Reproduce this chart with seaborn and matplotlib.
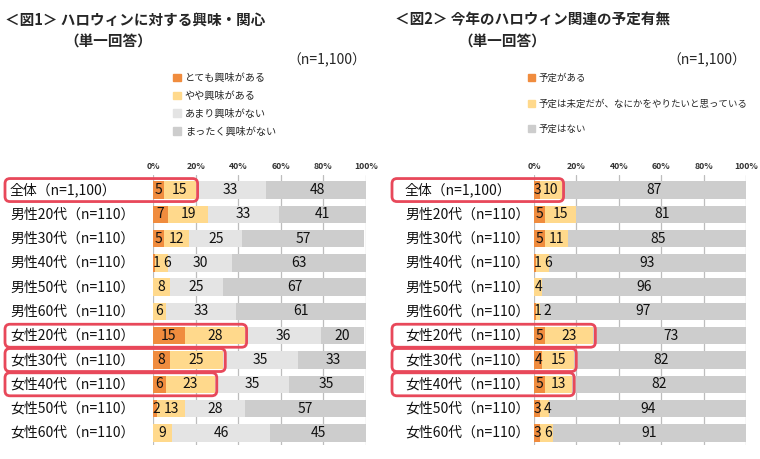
import matplotlib
matplotlib.use('Agg')
import matplotlib.pyplot as plt
import matplotlib.transforms as mtransforms
from matplotlib.patches import Patch, FancyBboxPatch
import numpy as np
import seaborn as sns

groups = ['全体（n=1,100）', '男性20代（n=110）', '男性30代（n=110）', '男性40代（n=110）',
          '男性50代（n=110）', '男性60代（n=110）', '女性20代（n=110）', '女性30代（n=110）',
          '女性40代（n=110）', '女性50代（n=110）', '女性60代（n=110）']

# 図1 興味・関心 (%)
fig1_names = ['とても興味がある', 'やや興味がある', 'あまり興味がない', 'まったく興味がない']
fig1_very = [5, 7, 5, 1, 0, 0, 15, 8, 6, 2, 0]
fig1_some = [15, 19, 12, 6, 8, 6, 28, 25, 23, 13, 9]
fig1_little = [33, 33, 25, 30, 25, 33, 36, 35, 35, 28, 46]
fig1_none = [48, 41, 57, 63, 67, 61, 20, 33, 35, 57, 45]

# 図2 予定有無 (%)
fig2_names = ['予定がある', '予定は未定だが、なにかをやりたいと思っている', '予定はない']
fig2_yes = [3, 5, 5, 1, 0, 1, 5, 4, 5, 3, 3]
fig2_maybe = [10, 15, 11, 6, 4, 2, 23, 15, 13, 4, 6]
fig2_no = [87, 81, 85, 93, 96, 97, 73, 82, 82, 94, 91]

highlight = [0, 6, 7, 8]

ORANGE = '#F08C3E'
YELLOW = '#FFD98C'
LGRAY = '#E4E4E4'
GRAY = '#CDCDCD'
RED = '#E8485A'

sns.set_theme(style='white')
plt.rcParams['font.family'] = ['Noto Sans CJK JP', 'DejaVu Sans']

W, H = 760, 459
fig = plt.figure(figsize=(W / 100, H / 100), dpi=100)


def px(x, y):
    return x / W, 1 - y / H


def panel(ax, series, colors, names, label_x, box_left, legend_xy, spacing, legend_size):
    n = len(series)
    for k in reversed(range(n)):
        cum = list(np.sum(series[:k + 1], axis=0))
        sns.barplot(x=cum, y=groups, order=groups, orient='h', color=colors[k],
                    saturation=1, width=0.72, linewidth=0, ax=ax)
    ax.set_xlim(0, 100)
    ax.set_ylim(10.5, -0.62)
    ax.set_axisbelow(True)
    ax.xaxis.tick_top()
    ax.set_xticks(range(0, 101, 20))
    ax.set_xticklabels([f'{v}%' for v in range(0, 101, 20)], fontsize=6.3,
                       color='#333333', weight='bold')
    ax.tick_params(axis='x', length=0, pad=3)
    ax.grid(axis='x', color='#BDBDBD', lw=0.9)
    ax.set_yticks([])
    ax.set_xlabel('')
    ax.set_ylabel('')
    for s in ax.spines.values():
        s.set_visible(False)

    # values inside segments, nudged right when small ones would collide
    digit = 5.7 / ax.bbox.width * 100
    for i in range(len(groups)):
        left = 0
        prev_right = -10
        for k in range(n):
            v = series[k][i]
            if v > 0:
                w = len(str(v)) * digit
                lab_left = max(left + v / 2 - w / 2, 0.4)
                if lab_left < prev_right + 2:
                    lab_left = prev_right + 2
                ax.text(lab_left + w / 2, i, str(v), ha='center', va='center',
                        fontsize=10, color='#111111')
                prev_right = lab_left + w
            left += v

    # row labels
    trans = mtransforms.blended_transform_factory(fig.transFigure, ax.transData)
    for i, g in enumerate(groups):
        ax.text(label_x / W, i, g, transform=trans, ha='left', va='center', fontsize=10, color='#111111')

    # red boxes around highlighted rows
    for i in highlight:
        s = series[0][i] + series[1][i]
        xr, yc = ax.transData.transform((s, i))
        x0 = box_left
        box = FancyBboxPatch((x0, yc - 11.5), xr + 2 - x0, 23,
                             boxstyle='round,pad=0,rounding_size=5',
                             transform=mtransforms.IdentityTransform(),
                             fill=False, ec=RED, lw=2, clip_on=False, zorder=10)
        fig.add_artist(box)

    handles = [Patch(facecolor=c, edgecolor=c) for c in colors]
    ax.legend(handles, names, loc='upper left', bbox_to_anchor=px(*legend_xy),
              bbox_transform=fig.transFigure, frameon=False, fontsize=legend_size,
              handlelength=0.75, handleheight=0.75, handletextpad=0.4,
              labelspacing=spacing, borderaxespad=0, borderpad=0)


ax1 = fig.add_axes([153 / W, 1 - 445 / H, 213 / W, 270 / H])
ax2 = fig.add_axes([534 / W, 1 - 445 / H, 212 / W, 270 / H])

panel(ax1, [fig1_very, fig1_some, fig1_little, fig1_none], [ORANGE, YELLOW, LGRAY, GRAY],
      fig1_names, 10, 5, (173, 73), 0.75, 7.3)
panel(ax2, [fig2_yes, fig2_maybe, fig2_no], [ORANGE, YELLOW, GRAY],
      fig2_names, 405, 392, (528, 73), 1.75, 6.8)

# titles
fig.text(*px(5, 20), '＜図1＞ ハロウィンに対する興味・関心', fontsize=10.5, weight='bold', va='center', ha='left')
fig.text(*px(64, 42), '（単一回答）', fontsize=10.5, weight='bold', va='center', ha='left')
fig.text(*px(366, 60), '（n=1,100）', fontsize=10, va='center', ha='right')
fig.text(*px(395, 20), '＜図2＞ 今年のハロウィン関連の予定有無', fontsize=10.5, weight='bold', va='center', ha='left')
fig.text(*px(458, 42), '（単一回答）', fontsize=10.5, weight='bold', va='center', ha='left')
fig.text(*px(746, 60), '（n=1,100）', fontsize=10, va='center', ha='right')

fig.savefig('out.png', dpi=100, facecolor='white')
